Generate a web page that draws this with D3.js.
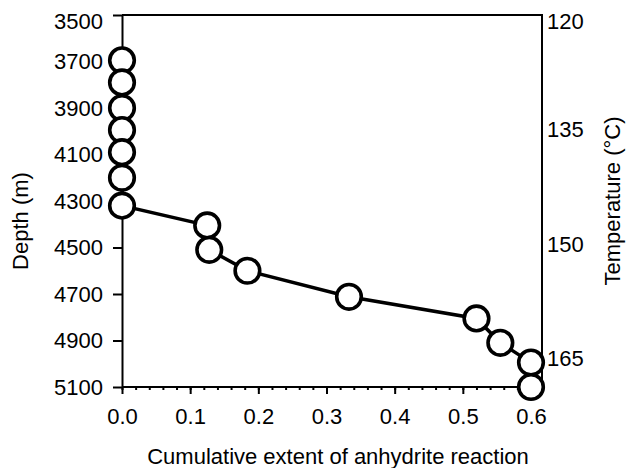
<!DOCTYPE html>
<html>
<head>
<meta charset="utf-8">
<script src="https://cdn.jsdelivr.net/npm/d3@7.9.0/dist/d3.min.js"></script>
<style>
  body { margin: 0; background: #fff; }
  svg { display: block; font-family: "Liberation Sans", Arial, sans-serif; }
</style>
</head>
<body>
<div id="chart"></div>
<script>
// values: extent of reaction vs depth
const extent = [0, 0, 0, 0, 0, 0, 0, 0.125, 0.128, 0.184, 0.333, 0.52, 0.555, 0.6, 0.6];
const depth = [3695, 3790, 3900, 3995, 4090, 4200, 4320, 4405, 4510, 4600, 4712, 4805, 4910, 4995, 5100];

const depthTicks = [3500, 3700, 3900, 4100, 4300, 4500, 4700, 4900, 5100];
const tempTicks = [120, 135, 150, 165];
const extentTicks = [0, 0.1, 0.2, 0.3, 0.4, 0.5, 0.6];

const width = 634;
const height = 468;

// plot box
const box = { left: 122, right: 542, top: 15, bottom: 387 };

const svg = d3.select('#chart')
    .append('svg')
    .attr('width', width)
    .attr('height', height);

// Scales
const xScale = d3.scaleLinear().domain([0, 0.6]).range([box.left, 531]);
const yScale = d3.scaleLinear().domain([3500, 5100]).range([box.top, box.bottom]);
const tScale = d3.scaleLinear().domain([120, 168.7]).range([box.top, box.bottom]);

const fontSize = 22;

// frame (top + right)
svg.append('path')
    .attr('d', `M${box.left},${box.top}H${box.right}V${box.bottom}`)
    .attr('fill', 'none')
    .attr('stroke', '#000')
    .attr('stroke-width', 2);

// left axis
const yAxis = svg.append('g')
    .attr('transform', `translate(${box.left},0)`)
    .call(d3.axisLeft(yScale).tickValues(depthTicks).tickSize(9).tickSizeOuter(0).tickPadding(10).tickFormat(d3.format('d')));

// bottom axis: minor ticks first, then major
const minor = d3.range(0, 0.6001, 0.02);
svg.append('g')
    .attr('transform', `translate(0,${box.bottom})`)
    .call(d3.axisBottom(xScale).tickValues(minor).tickSize(3).tickFormat(''))
    .call(g => g.select('.domain').remove());

const xAxis = svg.append('g')
    .attr('transform', `translate(0,${box.bottom})`)
    .call(d3.axisBottom(xScale).tickValues(extentTicks).tickSize(7).tickSizeOuter(0).tickPadding(14).tickFormat(d3.format('.1f')));
xAxis.select('.domain').attr('d', `M${box.left},0H${box.right}`);

// right axis, labels only
const tAxis = svg.append('g')
    .attr('transform', `translate(${box.right},0)`)
    .call(d3.axisRight(tScale).tickValues(tempTicks).tickSize(0).tickPadding(5));
tAxis.select('.domain').remove();

svg.selectAll('.tick text').attr('font-size', fontSize).attr('font-family', '"Liberation Sans", Arial, sans-serif').attr('fill', '#000');
svg.selectAll('.domain, .tick line').attr('stroke', '#000').attr('stroke-width', 2);

// top labels sit a bit lower than their tick in the original
yAxis.selectAll('.tick text').filter(d => d === 3500).attr('dy', '0.62em');
tAxis.selectAll('.tick text').filter(d => d === 120).attr('dy', '0.62em');

// data line
const pts = extent.map((e, i) => [e, depth[i]]);
svg.append('path')
    .datum(pts)
    .attr('fill', 'none')
    .attr('stroke', '#000')
    .attr('stroke-width', 3.5)
    .attr('d', d3.line().x(d => xScale(d[0])).y(d => yScale(d[1])));

svg.append('g')
    .selectAll('circle')
    .data(pts)
    .join('circle')
    .attr('cx', d => xScale(d[0]))
    .attr('cy', d => yScale(d[1]))
    .attr('r', 12.3)
    .attr('fill', '#fff')
    .attr('stroke', '#000')
    .attr('stroke-width', 3.6);

// axis titles
svg.append('text')
    .attr('x', (box.left + box.right) / 2 + 6)
    .attr('y', 464)
    .attr('text-anchor', 'middle')
    .attr('font-size', fontSize)
    .text('Cumulative extent of anhydrite reaction');

svg.append('text')
    .attr('transform', `translate(28,${(box.top + box.bottom) / 2 + 20}) rotate(-90)`)
    .attr('text-anchor', 'middle')
    .attr('font-size', fontSize)
    .text('Depth (m)');

svg.append('text')
    .attr('transform', `translate(620,${(box.top + box.bottom) / 2}) rotate(-90)`)
    .attr('text-anchor', 'middle')
    .attr('font-size', fontSize)
    .text('Temperature (°C)');
</script>
</body>
</html>
